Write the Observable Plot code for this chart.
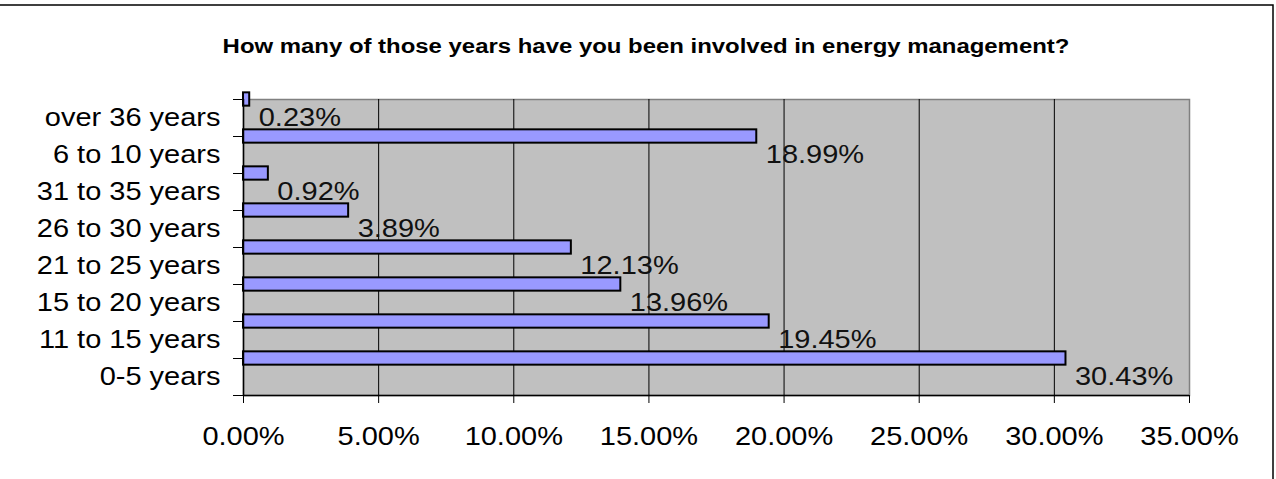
<!DOCTYPE html>
<html>
<head>
<meta charset="utf-8">
<script src="https://cdn.jsdelivr.net/npm/d3@7"></script>
<script src="https://cdn.jsdelivr.net/npm/@observablehq/plot@0.6"></script>
<style>
  html, body { margin: 0; padding: 0; background: #fff; }
  #chart svg { display: block; }
</style>
</head>
<body>
<div id="chart"></div>
<script>
// ---- data (top to bottom as drawn) ----
const categories = ["over 36 years", "6 to 10 years", "31 to 35 years", "26 to 30 years",
                    "21 to 25 years", "15 to 20 years", "11 to 15 years", "0-5 years"];
const values = [0.23, 18.99, 0.92, 3.89, 12.13, 13.96, 19.45, 30.43];
const xTicks = [0, 5, 10, 15, 20, 25, 30, 35];
const titleText = "How many of those years have you been involved in energy management?";

const rows = categories.map((c, i) => ({category: c, value: values[i], row: i}));
const fmt = d => d.toFixed(2) + "%";

const W = 1276, H = 479;
const STRETCH = 1.16;

const plot = Plot.plot({
  width: W,
  height: H,
  marginLeft: 243,
  marginRight: 87,
  marginTop: 99,
  marginBottom: 84,
  style: {fontFamily: "'Liberation Sans', Arial, sans-serif", fontSize: "25px", color: "#000", background: "#fff"},
  x: {domain: [0, 35], label: null},
  y: {domain: [0, categories.length], reverse: true, label: null},
  marks: [
    Plot.frame({fill: "#c0c0c0", stroke: "#808080", strokeWidth: 1.5}),
    Plot.ruleX(xTicks.slice(1, -1), {stroke: "#000", strokeWidth: 1}),
    Plot.rect(rows, {x1: 0, x2: "value", y1: d => d.row - 0.18, y2: d => d.row + 0.18,
                     fill: "#9999ff", stroke: "#000", strokeWidth: 2}),
    Plot.text(rows, {x: "value", y: d => d.row + 0.5, text: d => fmt(d.value),
                     textAnchor: "start", dx: 9, fill: "#111"}),
    Plot.ruleX([0], {stroke: "#000", strokeWidth: 1.5}),
    Plot.ruleY([categories.length], {stroke: "#000", strokeWidth: 1.5}),
    Plot.axisX({ticks: xTicks, tickFormat: fmt, tickSize: 8, tickPadding: 24, stroke: "#000"}),
    Plot.axisY({ticks: d3.range(0, categories.length + 1), tickFormat: () => "", tickSize: 10, stroke: "#000"}),
    Plot.axisY({ticks: categories.map((c, i) => i + 0.5), tickFormat: d => categories[Math.floor(d)],
                tickSize: 0, tickPadding: 23})
  ]
});

const svg = d3.select(plot);

// horizontally stretched text, as in the reference rendering
function stretch(sel, s) {
  sel.each(function() {
    const t = d3.select(this);
    const ax = (parseFloat(t.attr("x")) || 0) + (parseFloat(t.attr("dx")) || 0);
    const ay = parseFloat(t.attr("y")) || 0;
    const tr = t.attr("transform") || "";
    t.attr("transform", `${tr} translate(${ax},${ay}) scale(${s},1) translate(${-ax},${-ay})`);
  });
}
stretch(svg.selectAll("text"), STRETCH);

// chart title
const title = svg.append("text")
  .attr("x", 646).attr("y", 47)
  .attr("text-anchor", "middle")
  .attr("dominant-baseline", "middle")
  .attr("font-weight", "bold")
  .attr("font-size", 21)
  .attr("fill", "#000")
  .text(titleText);
stretch(title, 1.14);

// chart outer border
svg.append("rect")
  .attr("x", -2).attr("y", 5)
  .attr("width", 1275).attr("height", H)
  .attr("fill", "none")
  .attr("stroke", "#000")
  .attr("stroke-width", 1.5);

document.getElementById("chart").appendChild(plot);
</script>
</body>
</html>
